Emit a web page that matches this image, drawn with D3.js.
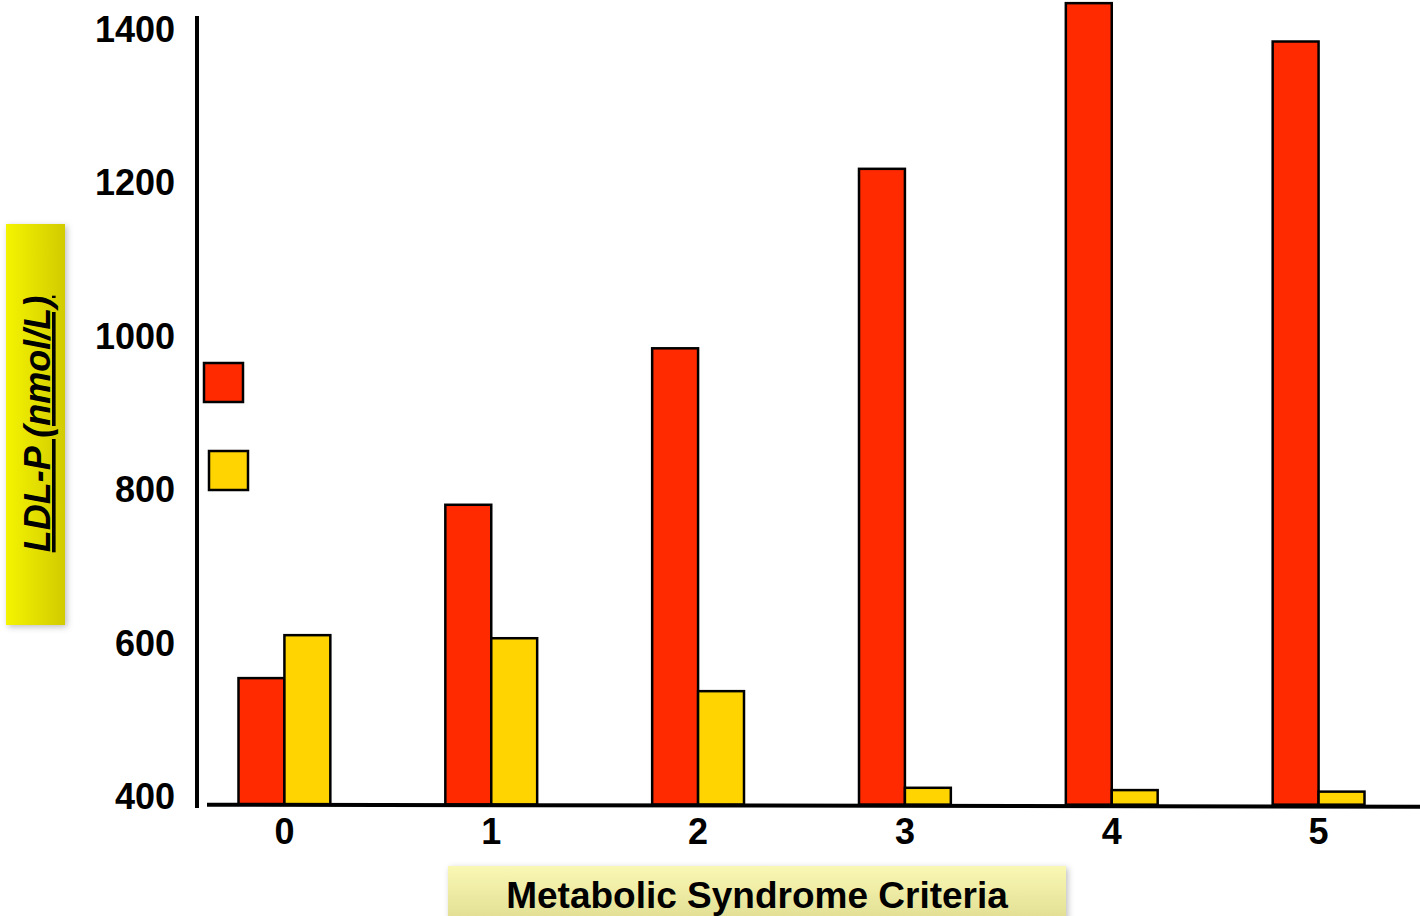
<!DOCTYPE html>
<html><head><meta charset="utf-8">
<script src="https://cdn.jsdelivr.net/npm/d3@7"></script>
<style>html,body{margin:0;padding:0;background:#fff;}svg{display:block;font-family:"Liberation Sans",Arial,sans-serif;}</style>
</head><body>
<svg id="c" width="1420" height="916"></svg>
<script>
const categories = ["0","1","2","3","4","5"];
const redValues = [555, 781, 985, 1219, 1435, 1385];
const yellowValues = [611, 607, 538, 412, 409, 407];
const yTicks = [400, 600, 800, 1000, 1200, 1400];
const seriesNames = ["red", "yellow"];
const yTitle = "LDL-P (nmol/L)";
const xTitle = "Metabolic Syndrome Criteria";
const baseValue = 390;

const svg = d3.select("#c");
const defs = svg.append("defs");
const g1 = defs.append("linearGradient").attr("id","ygrad").attr("x1","0").attr("x2","1").attr("y1","0").attr("y2","0");
g1.append("stop").attr("offset","0").attr("stop-color","#f4f400");
g1.append("stop").attr("offset","1").attr("stop-color","#d2cb00");
const g2 = defs.append("linearGradient").attr("id","xgrad").attr("x1","0").attr("x2","0").attr("y1","0").attr("y2","1");
g2.append("stop").attr("offset","0").attr("stop-color","#f9f8b4");
g2.append("stop").attr("offset","1").attr("stop-color","#dfdb90");
const f = defs.append("filter").attr("id","sh").attr("x","-20%").attr("y","-20%").attr("width","140%").attr("height","140%");
f.append("feDropShadow").attr("dx",2).attr("dy",2).attr("stdDeviation",3).attr("flood-color","#000").attr("flood-opacity",0.25);

const y = d3.scaleLinear().domain([400,1400]).range([797,30]);
const x = d3.scaleBand().domain(categories).range([181,1422]).paddingInner(0.556).paddingOuter(0.278);
const xs = d3.scaleBand().domain(seriesNames).range([0, x.bandwidth()]);
const colors = {red:"#ff2a00", yellow:"#ffd400"};

// y title box
svg.append("rect").attr("x",6).attr("y",224).attr("width",59).attr("height",401).attr("fill","url(#ygrad)").attr("filter","url(#sh)");
svg.append("text").attr("transform","translate(50,424) rotate(-90)").attr("text-anchor","middle")
  .attr("font-size",36).attr("font-weight","bold").attr("font-style","italic").attr("text-decoration","underline")
  .attr("fill","#000").text(yTitle);

// x title box
svg.append("rect").attr("x",448).attr("y",866).attr("width",618).attr("height",60).attr("fill","url(#xgrad)").attr("filter","url(#sh)");
svg.append("text").attr("x",757).attr("y",908).attr("text-anchor","middle").attr("font-size",37).attr("font-weight","bold").attr("fill","#000").text(xTitle);

// y axis labels
const yAxis = d3.axisLeft(y).tickValues(yTicks).tickSize(0).tickPadding(22).tickFormat(d3.format("d"));
const ya = svg.append("g").attr("transform","translate(197,0)").call(yAxis);
ya.select(".domain").remove();
ya.selectAll("text").attr("font-size",36).attr("font-weight","bold").attr("fill","#000").attr("font-family","Liberation Sans, Arial, sans-serif");

// bars
const data = categories.map((c,i)=>({c, vals:[{s:"red",v:redValues[i]},{s:"yellow",v:yellowValues[i]}]}));
const grp = svg.append("g").selectAll("g").data(data).join("g").attr("transform",d=>`translate(${x(d.c)},0)`);
grp.selectAll("rect").data(d=>d.vals).join("rect")
  .attr("x",d=>xs(d.s)).attr("width",xs.bandwidth())
  .attr("y",d=>y(d.v)).attr("height",d=>y(baseValue)-y(d.v))
  .attr("fill",d=>colors[d.s]).attr("stroke","#000").attr("stroke-width",2.5);

// axis lines
svg.append("line").attr("x1",197).attr("x2",197).attr("y1",16).attr("y2",808).attr("stroke","#000").attr("stroke-width",4);
svg.append("line").attr("x1",207).attr("x2",1420).attr("y1",y(baseValue)).attr("y2",y(baseValue)+2).attr("stroke","#000").attr("stroke-width",4);

// x labels
const xAxis = d3.axisBottom(x).tickSize(0).tickPadding(14);
const xa = svg.append("g").attr("transform",`translate(0,${y(baseValue)})`).call(xAxis);
xa.select(".domain").remove();
xa.selectAll("text").attr("font-size",36).attr("font-weight","bold").attr("fill","#000").attr("font-family","Liberation Sans, Arial, sans-serif");

// legend swatches (no text)
const legend = [{s:"red",x:204,y:363},{s:"yellow",x:209,y:451}];
svg.append("g").selectAll("rect").data(legend).join("rect")
  .attr("x",d=>d.x).attr("y",d=>d.y).attr("width",39).attr("height",39)
  .attr("fill",d=>colors[d.s]).attr("stroke","#000").attr("stroke-width",2.5);
</script>
</body></html>
